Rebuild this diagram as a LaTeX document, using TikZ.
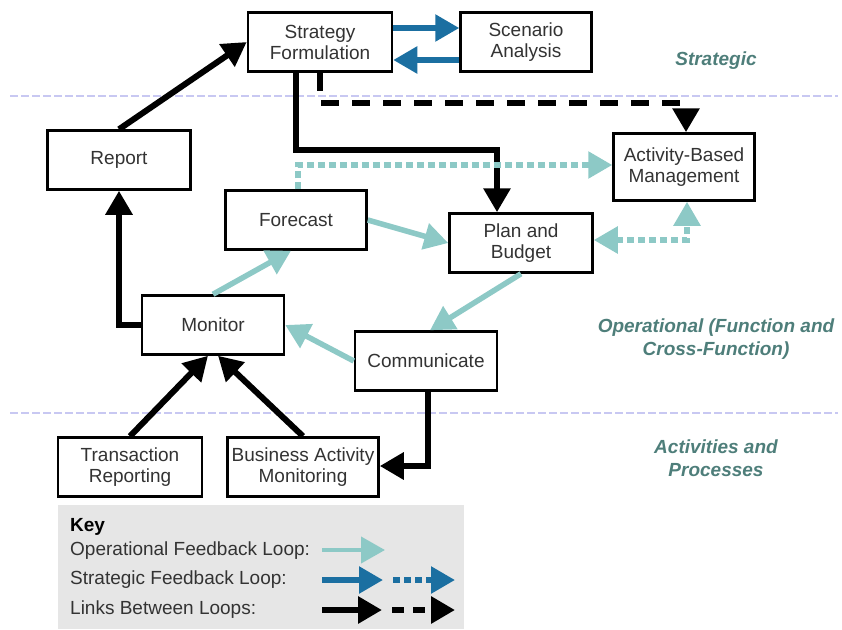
\documentclass[tikz,border=0pt]{standalone}
\usepackage{fontspec}
\setmainfont{Liberation Sans}
\usetikzlibrary{arrows.meta}

\definecolor{optealc}{HTML}{8DC9C6}
\definecolor{stratblue}{HTML}{1B6FA1}
\definecolor{zonetext}{HTML}{4E7E7A}
\definecolor{zoneline}{HTML}{C8C8F2}
\definecolor{boxtext}{HTML}{333333}
\definecolor{keyfill}{HTML}{E6E6E6}

\tikzset{
    box/.style={draw=black, line width=2.5pt, fill=white, minimum width=142pt,
        minimum height=59pt, align=center, inner sep=2pt, text=boxtext,
        font=\fontsize{19}{21}\selectfont},
    bigtip/.style={-{Triangle[length=24pt, width=26pt]}},
    oploop/.style={draw=optealc, line width=5.5pt, bigtip},
    opdotted/.style={oploop, dash pattern=on 7pt off 4pt},
    stratloop/.style={draw=stratblue, line width=5.5pt, bigtip},
    stratdotted/.style={stratloop, dash pattern=on 7pt off 4pt},
    linkloop/.style={draw=black, line width=6pt, bigtip},
    linkdashed/.style={linkloop, dash pattern=on 18pt off 13pt},
    zonelabel/.style={text=zonetext, align=center, font=\fontsize{19}{23}\selectfont\bfseries\itshape},
    keytext/.style={anchor=west, inner sep=0pt, text=boxtext, font=\fontsize{19}{21}\selectfont}
}

\begin{document}
\begin{tikzpicture}[x=1pt, y=-1pt]
    \useasboundingbox (0,0) rectangle (842,629);

    % Zone separators
    \foreach \yy in {96, 413} {
        \draw[zoneline, line width=1.5pt, dash pattern=on 8pt off 3pt] (10,\yy) -- (838,\yy);
    }

    % Zone labels
    \node[zonelabel] (zstrat) at (716,61) {Strategic};
    \node[zonelabel] (zoper) at (716,339) {Operational (Function and\\Cross-Function)};
    \node[zonelabel] (zact) at (716,458) {Activities and\\Processes};

    % Boxes
    \node[box, minimum width=144pt] (strat) at (320,42) {Strategy\\Formulation};
    \node[box, minimum width=131pt] (scen) at (526,42) {Scenario\\Analysis};
    \node[box, minimum width=143pt] (report) at (119,160) {Report};
    \node[box, minimum width=141pt, minimum height=67pt] (abm) at (684,167) {Activity-Based\\Management};
    \node[box, minimum width=141pt] (fcst) at (296,220) {Forecast};
    \node[box, minimum width=143pt] (plan) at (521,243) {Plan and\\Budget};
    \node[box] (mon) at (213,325) {Monitor};
    \node[box] (comm) at (426,361) {Communicate};
    \node[box, minimum width=144pt] (trans) at (130,467) {Transaction\\Reporting};
    \node[box, minimum width=151pt] (bam) at (303,467) {Business Activity\\Monitoring};

    % Strategic feedback loop
    \draw[stratloop] ([yshift=14pt]strat.east) -- ([yshift=14pt]scen.west);
    \draw[stratloop] ([yshift=-18pt]scen.west) -- ([yshift=-18pt]strat.east);

    % Links between loops
    \draw[linkloop] (report.north) -- (strat.west);
    \draw[linkloop] ([xshift=-24pt]strat.south) -- ++(0,77) -| ([xshift=-24pt]plan.north);
    \draw[linkdashed] (strat.south) -- ++(0,30) -| ([xshift=2pt]abm.north);
    \draw[linkloop] (mon.west) -| (report.south);
    \draw[linkloop] (trans.north) -- ([xshift=-5pt]mon.south);
    \draw[linkloop] (bam.north) -- ([xshift=5pt]mon.south);
    \draw[linkloop] ([xshift=2pt]comm.south) |- ([yshift=1pt]bam.east);

    % Operational feedback loop
    \draw[opdotted] ([xshift=2pt]fcst.north) |- ([yshift=2pt]abm.west);
    \draw[oploop] (fcst.east) -- (plan.west);
    \draw[opdotted, {Triangle[length=24pt, width=26pt]}-{Triangle[length=24pt, width=26pt]}]
        ([yshift=3pt]plan.east) -| ([xshift=3pt]abm.south);
    \draw[oploop] (plan.south) -- ([xshift=4pt]comm.north);
    \draw[oploop] (comm.west) -- (mon.east);
    \draw[oploop] (mon.north) -- ([xshift=-5pt]fcst.south);

    % Key
    \fill[keyfill] (58,505) rectangle (464,629);
    \node[keytext, font=\fontsize{19}{21}\selectfont\bfseries, text=black] (keyhead) at (70,527) {Key};
    \node[keytext] (keyop) at (70,551) {Operational Feedback Loop:};
    \node[keytext] (keyst) at (70,580) {Strategic Feedback Loop:};
    \node[keytext] (keyln) at (70,610) {Links Between Loops:};

    \coordinate (kopA) at (322,550);
    \coordinate (kopB) at (385,550);
    \coordinate (kstA) at (322,580);
    \coordinate (kstB) at (383,580);
    \coordinate (kstC) at (393,580);
    \coordinate (kstD) at (455,580);
    \coordinate (klnA) at (322,610);
    \coordinate (klnB) at (382,610);
    \coordinate (klnC) at (392,610);
    \coordinate (klnD) at (455,610);

    \draw[oploop, line width=4pt] (kopA) -- (kopB);
    \draw[stratloop] (kstA) -- (kstB);
    \draw[stratdotted] (kstC) -- (kstD);
    \draw[linkloop] (klnA) -- (klnB);
    \draw[linkloop, dash pattern=on 12pt off 9pt] (klnC) -- (klnD);

\end{tikzpicture}
\end{document}
